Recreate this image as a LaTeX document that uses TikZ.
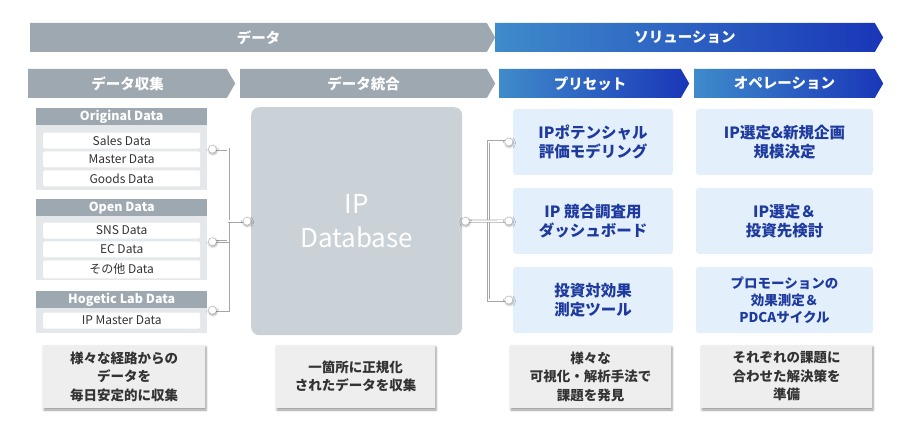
\documentclass[tikz,border=0pt]{standalone}
\usepackage{fontspec}
\setmainfont{Noto Sans CJK JP}
\usepackage{tikz}
\usetikzlibrary{positioning, shapes.symbols, shadows.blur}

\definecolor{barGrey}{HTML}{9DA8B0}
\definecolor{grpBg}{HTML}{E4E8EB}
\definecolor{dbGrey}{HTML}{CBD2D7}
\definecolor{blueL}{HTML}{3F8BCB}
\definecolor{blueR}{HTML}{1936B8}
\definecolor{boxBlue}{HTML}{E3F0FB}
\definecolor{txtBlue}{HTML}{1E3A9E}
\definecolor{noteBg}{HTML}{EEEEEE}
\definecolor{txtDark}{HTML}{333333}

\begin{document}
\begin{tikzpicture}[
  x=1pt, y=-1pt,
  bar/.style={signal, signal to=east, signal pointer angle=120, inner sep=0pt,
    minimum height=29pt, anchor=west, text=white,
    font=\bfseries\fontsize{14.5}{16}\selectfont},
  greybar/.style={bar, fill=barGrey},
  bluebar/.style={bar, left color=blueL, right color=blueR},
  group/.style={fill=grpBg, minimum width=171pt, anchor=north west, inner sep=0pt},
  grphead/.style={fill=barGrey, minimum width=171pt, minimum height=17pt,
    anchor=north, inner sep=0pt, text=white,
    font=\bfseries\fontsize{12.5}{13}\selectfont},
  item/.style={fill=white, rounded corners=2pt, minimum width=157pt,
    minimum height=16pt, inner sep=0pt, text=txtDark,
    font=\fontsize{12}{13}\selectfont},
  pbox/.style={fill=boxBlue, rounded corners=3pt, minimum height=66pt,
    align=center, text=txtBlue, font=\bfseries\fontsize{15.5}{19.5}\selectfont},
  note/.style={fill=noteBg, minimum height=63pt, align=center, text=txtDark,
    font=\bfseries\fontsize{13.5}{18.5}\selectfont,
    blur shadow={shadow xshift=1pt, shadow yshift=-2pt, shadow blur steps=6}},
  wire/.style={draw=black!35, double=white, double distance=1.6pt, line width=0.7pt},
  dot/.style={circle, fill=white, draw=black!30, minimum size=8pt, inner sep=0pt,
    blur shadow={shadow xshift=0.5pt, shadow yshift=-1pt, shadow blur steps=4}},
]
  \useasboundingbox (0,0) rectangle (900,422);

  % header bars
  \node[greybar, minimum width=465pt] (data) at (30,37.5) {データ};
  \node[bluebar, minimum width=388pt] (solution) at (495,37.5) {ソリューション};
  \node[greybar, minimum width=207pt] (collect) at (28,83.5) {データ収集};
  \node[greybar, minimum width=255pt] (merge) at (240,83.5) {データ統合};
  \node[bluebar, minimum width=190pt] (preset) at (499,83.5) {プリセット};
  \node[bluebar, minimum width=189pt] (operation) at (694,83.5) {オペレーション};

  % data sources
  \node[group, minimum height=82pt] (orig) at (36,108) {};
  \node[grphead] (origH) at (orig.north) {Original Data};
  \node[item, below=7pt of origH] (sales) {Sales Data};
  \node[item, below=2.5pt of sales] (master) {Master Data};
  \node[item, below=2.5pt of master] (goods) {Goods Data};

  \node[group, minimum height=81pt] (open) at (36,199) {};
  \node[grphead] (openH) at (open.north) {Open Data};
  \node[item, below=6pt of openH] (sns) {SNS Data};
  \node[item, below=2.5pt of sns] (ec) {EC Data};
  \node[item, below=2.5pt of ec, minimum height=18pt] (other) {その他 Data};

  \node[group, minimum height=42pt] (hog) at (36,291) {};
  \node[grphead] (hogH) at (hog.north) {Hogetic Lab Data};
  \node[item, below=4pt of hogH] (ipm) {IP Master Data};

  % database
  \node[fill=dbGrey, rounded corners=8pt, minimum width=211pt, minimum height=228pt,
    anchor=north west, align=center, text=white,
    font=\fontsize{26}{34}\selectfont] (db) at (251,107) {IP\\Database};

  % presets and operations
  \node[pbox, minimum width=160pt] (pre1) at (593,142) {IPポテンシャル\\評価モデリング};
  \node[pbox, minimum width=160pt] (pre2) at (593,221) {IP 競合調査用\\ダッシュボード};
  \node[pbox, minimum width=160pt] (pre3) at (593,300) {投資対効果\\測定ツール};
  \node[pbox, minimum width=177pt] (op1) at (784.5,142) {IP選定\&新規企画\\規模決定};
  \node[pbox, minimum width=177pt] (op2) at (784.5,221) {IP選定＆\\投資先検討};
  \node[pbox, minimum width=177pt, font=\bfseries\fontsize{13.5}{17}\selectfont]
    (op3) at (784.5,300) {プロモーションの\\効果測定＆\\PDCAサイクル};

  % notes
  \node[note, minimum width=162pt] (n1) at (124,376.5) {様々な経路からの\\データを\\毎日安定的に収集};
  \node[note, minimum width=159pt] (n2) at (355.5,376.5) {一箇所に正規化\\されたデータを収集};
  \node[note, minimum width=161pt] (n3) at (590.5,376.5) {様々な\\可視化・解析手法で\\課題を発見};
  \node[note, minimum width=171pt] (n4) at (786.5,376.5) {それぞれの課題に\\合わせた解決策を\\準備};

  % connectors
  \coordinate (pOrig) at ([xshift=5pt]orig.east);
  \coordinate (pOpen) at ([xshift=5pt, yshift=-2pt]open.east);
  \coordinate (pHog) at ([xshift=5pt, yshift=2pt]hog.east);
  \coordinate (pDbL) at ([xshift=-4pt]db.west);
  \coordinate (pDbR) at ([xshift=3pt]db.east);
  \coordinate (jL) at ([xshift=-23pt]db.west);
  \coordinate (jR) at ([xshift=26pt]db.east);
  \coordinate (pPre1) at ([xshift=-4pt]pre1.west);
  \coordinate (pPre2) at ([xshift=-4pt]pre2.west);
  \coordinate (pPre3) at ([xshift=-4pt]pre3.west);

  \draw[wire] (pOrig) -| (jL) |- (pHog);
  \draw[wire] (pOpen) -| (jL);
  \draw[wire] (jL) -- (pDbL);
  \draw[wire] (pPre1) -| (jR) |- (pPre3);
  \draw[wire] (pDbR) -- (pPre2);
  \foreach \p in {pOrig, pOpen, pHog, pDbL, pDbR, pPre1, pPre2, pPre3}
    \node[dot] at (\p) {};
\end{tikzpicture}
\end{document}
